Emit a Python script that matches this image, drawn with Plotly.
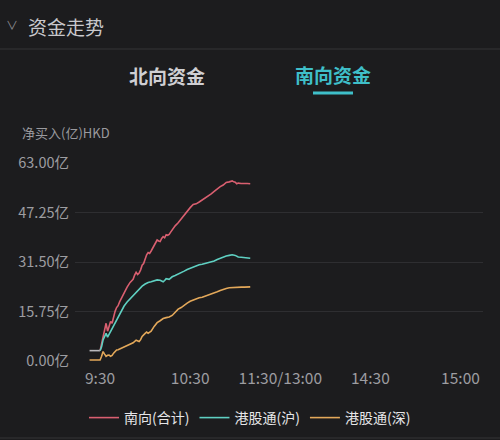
import plotly.graph_objects as go

# minutes since 9:30 (the axis runs 9:30-11:30 / 13:00-15:00 as one 240 min span)
tick_minutes = [0, 60, 120, 180, 240]
tick_labels = ["9:30", "10:30", "11:30/13:00", "14:30", "15:00"]

y_ticks = [0, 15.75, 31.5, 47.25, 63]
y_labels = ["0.00亿", "15.75亿", "31.50亿", "47.25亿", "63.00亿"]

# pre-open auction (shown grey)
auction_min = [-7, 0]
auction_val = [3.3, 3.3]

south_total_min = [0, 1, 2, 3, 4, 5, 6, 7, 8, 9, 10, 11, 12, 13, 14, 15, 16, 18, 20, 22,
                   23, 24, 25, 26, 27, 28, 29, 30, 31, 32, 33, 34, 35, 36, 37, 38, 39, 40,
                   41, 42, 43, 44, 45, 46, 47, 48, 50, 52, 54, 56, 58, 60, 62, 64, 66, 68,
                   70, 72, 74, 76, 78, 80, 82, 84, 86, 88, 89, 90, 91, 92, 94, 96, 98, 100]
south_total = [3.3, 5.5, 8.0, 10.5, 12.0, 9.5, 11.0, 12.6, 12.0, 14.5, 15.8, 17.0, 17.6,
               18.8, 19.8, 21.0, 21.8, 23.5, 25.0, 26.0, 27.3, 28.2, 27.5, 28.0, 29.0, 30.5,
               31.0, 32.5, 33.8, 34.5, 34.2, 35.0, 36.0, 37.0, 38.0, 38.5, 38.2, 38.0, 39.0,
               39.6, 39.2, 40.2, 40.0, 40.3, 41.0, 41.8, 43.0, 44.0, 45.3, 46.3, 47.5, 48.8,
               49.8, 50.0, 50.6, 51.2, 51.8, 52.6, 53.2, 54.0, 54.8, 55.5, 56.0, 56.8, 57.0,
               57.3, 57.0, 56.9, 56.4, 56.6, 56.5, 56.6, 56.5, 56.4]

sh_min = [0, 1, 2, 3, 4, 5, 6, 7, 8, 9, 10, 11, 12, 13, 14, 15, 16, 18, 20, 22, 24, 26, 28,
          30, 32, 34, 36, 38, 40, 42, 43, 44, 46, 48, 50, 52, 54, 56, 58, 60, 62, 64, 66,
          68, 70, 72, 74, 76, 78, 80, 82, 84, 86, 88, 90, 92, 94, 96, 98, 100]
sh_val = [3.3, 4.5, 6.7, 8.0, 8.8, 7.6, 8.5, 9.8, 10.2, 11.2, 12.5, 13.4, 14.0, 15.0, 16.0,
          16.8, 17.5, 18.8, 19.8, 21.0, 22.0, 22.8, 23.8, 24.5, 25.0, 25.2, 25.6, 25.8,
          25.7, 25.2, 25.6, 26.2, 26.0, 26.8, 27.2, 27.6, 28.0, 28.6, 29.1, 29.5, 30.0,
          30.2, 30.6, 30.8, 31.0, 31.3, 31.5, 31.8, 32.3, 32.7, 33.0, 33.4, 33.6, 33.8,
          33.6, 33.1, 33.0, 32.9, 32.8, 32.7]

sz_min = [-7, 0, 1, 2, 3, 4, 5, 6, 7, 8, 9, 10, 11, 12, 14, 16, 18, 20, 22, 24, 26, 27, 28,
          30, 31, 32, 34, 36, 38, 40, 42, 44, 46, 48, 50, 52, 54, 56, 58, 60, 62, 64, 66,
          68, 70, 72, 74, 76, 78, 80, 82, 84, 86, 88, 90, 92, 94, 96, 98, 100]
sz_val = [0.3, 0.3, 1.5, 3.0, 2.2, 1.5, 1.8, 1.9, 1.5, 1.8, 2.5, 3.2, 3.5, 3.6, 4.0, 4.5,
          4.8, 5.3, 5.8, 6.6, 6.2, 6.8, 7.8, 8.8, 9.2, 8.8, 9.5, 11.0, 12.2, 12.8, 13.5,
          13.8, 14.0, 14.5, 15.5, 16.5, 17.0, 17.8, 18.4, 19.0, 19.4, 19.8, 20.1, 20.3,
          20.6, 20.9, 21.4, 21.7, 22.0, 22.4, 22.8, 23.1, 23.3, 23.4, 23.4, 23.4, 23.5,
          23.5, 23.6, 23.6]

BG = "#1c1c1e"
GRID = "#2e2e31"
FONT = "Noto Sans CJK SC"

# plot area in pixels: x 75..483, y 163..361
L, R, T, B = 75, 17, 163, 79
PW, PH = 500 - L - R, 440 - T - B


def px(x):
    return (x - L) / PW


def py(y):
    return (440 - B - y) / PH


fig = go.Figure()
fig.add_trace(go.Scatter(x=auction_min, y=auction_val, mode="lines", showlegend=False,
                         line=dict(color="#b9b9bd", width=1.6), hoverinfo="skip"))
fig.add_trace(go.Scatter(x=south_total_min, y=south_total, mode="lines", name="南向(合计)",
                         line=dict(color="#d95f70", width=1.6)))
fig.add_trace(go.Scatter(x=sh_min, y=sh_val, mode="lines", name="港股通(沪)",
                         line=dict(color="#5fd0c2", width=1.6)))
fig.add_trace(go.Scatter(x=sz_min, y=sz_val, mode="lines", name="港股通(深)",
                         line=dict(color="#e3a85a", width=1.6)))

fig.update_layout(
    width=500, height=440,
    margin=dict(l=L, r=R, t=T, b=B),
    paper_bgcolor=BG, plot_bgcolor=BG,
    font=dict(family=FONT, color="#9a9a9e", size=13),
    showlegend=True,
    # legend placed against the whole figure so it does not push the margins
    legend=dict(orientation="h", xref="container", yref="container",
                x=250 / 500, xanchor="center", y=1 - 418 / 440, yanchor="middle",
                font=dict(size=14, color="#e6e6e8"), bgcolor="rgba(0,0,0,0)",
                itemwidth=30, tracegroupgap=0),
    xaxis=dict(range=[-16.7, 255], tickvals=tick_minutes, ticktext=tick_labels,
               showgrid=False, zeroline=False, showline=False, ticks="",
               ticklabelstandoff=6, automargin=False,
               tickfont=dict(size=15.5, color="#9d9da1"), fixedrange=True),
    yaxis=dict(range=[0, 63], tickvals=y_ticks, ticktext=y_labels,
               showgrid=True, gridcolor=GRID, gridwidth=1, zeroline=False,
               showline=False, ticks="", ticklabelstandoff=5, automargin=False,
               tickfont=dict(size=14.5, color="#9d9da1"), fixedrange=True),
)

# header, tabs and unit label
fig.add_annotation(text="资金走势", xref="paper", yref="paper", x=px(26), y=py(26),
                   xanchor="left", yanchor="middle", showarrow=False,
                   font=dict(size=19, color="#c8c8cc"))
fig.add_annotation(text="∨", xref="paper", yref="paper", x=px(12), y=py(24),
                   xanchor="center", yanchor="middle", showarrow=False,
                   font=dict(size=12, color="#8a8a8e"))
fig.add_annotation(text="<b>北向资金</b>", xref="paper", yref="paper", x=px(167), y=py(75),
                   xanchor="center", yanchor="middle", showarrow=False,
                   font=dict(size=19, color="#cfcfd3"))
fig.add_annotation(text="<b>南向资金</b>", xref="paper", yref="paper", x=px(333), y=py(74),
                   xanchor="center", yanchor="middle", showarrow=False,
                   font=dict(size=19, color="#3fbfc9"))
fig.add_annotation(text="净买入(亿)HKD", xref="paper", yref="paper", x=px(20), y=py(132),
                   xanchor="left", yanchor="middle", showarrow=False,
                   font=dict(size=13, color="#9a9a9e"))

# divider lines and tab underline
fig.add_shape(type="line", xref="paper", yref="paper", x0=px(0), x1=px(500),
              y0=py(49), y1=py(49), line=dict(color="#2c2c2f", width=1.5))
fig.add_shape(type="line", xref="paper", yref="paper", x0=px(313), x1=px(353),
              y0=py(93), y1=py(93), line=dict(color="#3fbfc9", width=3))
fig.add_shape(type="line", xref="paper", yref="paper", x0=px(0), x1=px(500),
              y0=py(438), y1=py(438), line=dict(color="#2c2c2f", width=1.5))

# drop the default page margin so the figure fills the window
fig.write_html("out.html", config={"displayModeBar": False},
               post_script="document.body.style.margin='0';document.body.style.background='#1c1c1e';")
